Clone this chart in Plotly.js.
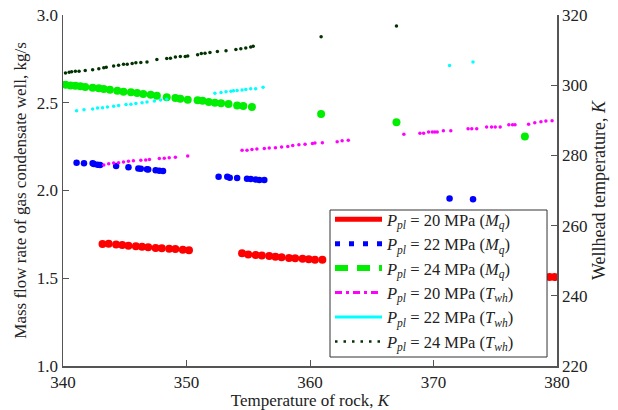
<!DOCTYPE html>
<html>
<head>
<meta charset="utf-8">
<script src="https://cdn.plot.ly/plotly-3.0.1.min.js"></script>
<style>html,body{margin:0;padding:0;background:#fff;}#chart{width:618px;height:410px;}</style>
</head>
<body>
<div id="chart"></div>
<script>
// Mass flow rate, Ppl = 20 MPa (Mq), left axis
const mq20X = [343.2,343.7,344.3,344.8,345.3,345.9,346.4,346.9,347.5,348.0,348.6,349.1,349.7,350.2,
               354.5,355.0,355.6,356.1,356.7,357.2,357.7,358.3,358.8,359.4,359.9,360.4,361.0,379.4,379.8];
const mq20Y = [1.695,1.697,1.693,1.689,1.685,1.682,1.680,1.676,1.672,1.671,1.668,1.667,1.663,1.659,
               1.642,1.636,1.632,1.629,1.627,1.623,1.619,1.615,1.614,1.611,1.608,1.606,1.606,1.507,1.507];
// Mass flow rate, Ppl = 22 MPa (Mq)
const mq22X = [341.1,341.7,342.4,342.5,342.8,343.0,344.3,345.3,346.1,346.3,346.8,346.9,347.5,347.8,348.1,
               352.6,353.3,353.5,354.1,354.9,355.2,355.6,355.9,356.3,371.3,373.2];
const mq22Y = [2.158,2.155,2.155,2.151,2.147,2.145,2.140,2.132,2.126,2.124,2.121,2.119,2.115,2.113,2.111,
               2.079,2.079,2.073,2.071,2.067,2.066,2.062,2.060,2.060,1.955,1.950];
// Mass flow rate, Ppl = 24 MPa (Mq)
const mq24X = [340.2,340.6,341.0,341.4,341.8,342.4,342.9,343.3,343.8,344.4,344.9,345.5,346.0,346.5,347.1,347.6,348.4,
               349.1,349.5,350.1,350.9,351.3,351.8,352.3,352.8,353.4,354.1,354.6,355.3,360.9,367.0,377.4];
const mq24Y = [2.603,2.599,2.597,2.594,2.590,2.586,2.582,2.578,2.574,2.569,2.563,2.560,2.556,2.550,2.546,2.540,2.531,
               2.527,2.523,2.517,2.514,2.512,2.504,2.500,2.497,2.493,2.485,2.481,2.476,2.436,2.389,2.307];
// Wellhead temperature, Ppl = 20 MPa (Twh), right axis
const tw20X = [343.3,343.7,344.1,344.5,344.9,345.3,345.7,346.3,346.7,347.0,347.8,348.2,348.6,349.1,350.1,
               354.5,354.9,355.3,355.7,356.3,356.7,357.2,357.7,358.2,358.6,359.1,359.6,360.2,360.4,361.0,362.2,362.6,363.1,
               367.6,368.9,369.2,369.6,369.9,370.1,370.3,370.8,371.4,372.8,373.1,373.5,374.3,374.7,375.0,375.4,376.1,376.4,376.6,
               377.7,378.2,378.7,379.1,379.6];
const tw20Y = [277.3,277.6,277.8,277.9,278.1,278.3,278.5,278.6,278.7,278.8,279.1,279.2,279.3,279.5,279.8,
               281.5,281.5,281.7,281.8,282.0,282.1,282.2,282.4,282.5,282.8,283.0,283.2,283.4,283.5,283.6,283.9,284.2,284.3,
               286.0,286.3,286.3,286.7,286.7,286.7,286.7,287.0,287.0,287.6,287.6,287.6,288.1,288.1,288.1,288.1,288.7,288.7,288.7,
               288.9,289.3,289.6,289.8,289.9];
// Wellhead temperature, Ppl = 22 MPa (Twh)
const tw22X = [341.1,341.7,342.4,342.8,343.2,343.6,344.1,344.5,345.1,345.5,345.9,346.4,346.8,347.4,347.9,348.4,
               352.3,352.8,353.2,353.6,353.8,354.1,354.5,354.8,355.2,355.6,356.2,371.3,373.2];
const tw22Y = [292.7,293.0,293.2,293.5,293.6,293.8,294.0,294.2,294.5,294.6,294.8,295.0,295.2,295.5,295.8,296.0,
               297.7,297.9,298.1,298.3,298.4,298.5,298.6,298.8,299.0,299.0,299.4,305.6,306.6];
// Wellhead temperature, Ppl = 24 MPa (Twh)
const tw24X = [340.2,340.5,340.7,341.0,341.3,341.8,342.4,342.9,343.3,343.5,344.1,344.5,344.9,345.2,345.6,345.9,346.3,346.8,347.6,348.4,
               348.7,349.1,349.5,349.9,350.1,350.9,351.2,351.5,351.9,352.5,353.2,354.0,354.4,354.8,355.2,355.4,360.9,367.0];
const tw24Y = [303.5,303.7,303.8,304.0,304.0,304.2,304.4,304.7,305.0,305.1,305.5,305.7,306.0,306.0,306.2,306.4,306.5,306.6,307.3,307.6,
               307.7,308.0,308.2,308.2,308.3,308.7,309.0,309.1,309.3,309.6,309.8,310.2,310.4,310.6,310.9,311.1,313.8,316.9];

const legendNames = [
  '<i>P</i><sub><i>pl</i></sub> = 20 MPa (<i>M</i><sub><i>q</i></sub>)',
  '<i>P</i><sub><i>pl</i></sub> = 22 MPa (<i>M</i><sub><i>q</i></sub>)',
  '<i>P</i><sub><i>pl</i></sub> = 24 MPa (<i>M</i><sub><i>q</i></sub>)',
  '<i>P</i><sub><i>pl</i></sub> = 20 MPa (<i>T</i><sub><i>wh</i></sub>)',
  '<i>P</i><sub><i>pl</i></sub> = 22 MPa (<i>T</i><sub><i>wh</i></sub>)',
  '<i>P</i><sub><i>pl</i></sub> = 24 MPa (<i>T</i><sub><i>wh</i></sub>)'
];
const colors = ['#ff0000','#0000ff','#00ee00','#ff00ff','#00ffff','#003300'];
const markerSizes = [8,6.5,8,3.5,3.5,3.5];
const legendLines = [
  {width:5, dash:'solid'},
  {width:5, dash:'5px,9px'},
  {width:6, dash:'13px,9px'},
  {width:3, dash:'7px,4px,3px,4px'},
  {width:3, dash:'solid'},
  {width:2.5, dash:'2.5px,6px'}
];
const seriesX = [mq20X,mq22X,mq24X,tw20X,tw22X,tw24X];
const seriesY = [mq20Y,mq22Y,mq24Y,tw20Y,tw22Y,tw24Y];
const seriesAxis = ['y','y','y','y2','y2','y2'];

const traces = [];
for (let i = 0; i < 6; i++) {
  traces.push({
    x: seriesX[i], y: seriesY[i], yaxis: seriesAxis[i], type: 'scatter', mode: 'markers',
    marker: {color: colors[i], size: markerSizes[i], line: {width: 0}},
    showlegend: false, hoverinfo: 'skip'
  });
}
for (let i = 0; i < 6; i++) {
  traces.push({
    x: [null], y: [null], yaxis: seriesAxis[i], type: 'scatter', mode: 'lines',
    name: legendNames[i], legendgroup: 'g' + i,
    line: {color: colors[i], width: legendLines[i].width, dash: legendLines[i].dash},
    showlegend: true
  });
}

const fontFam = 'Times New Roman, Liberation Serif, DejaVu Serif, serif';
const axisCol = '#555';
const txtCol = '#222';
const layout = {
  width: 618, height: 410,
  margin: {l: 63, r: 61, t: 15, b: 44},
  paper_bgcolor: '#fff', plot_bgcolor: '#fff',
  font: {family: fontFam, size: 16, color: txtCol},
  showlegend: true,
  legend: {
    x: 0.5405, y: 0.02, xanchor: 'left', yanchor: 'bottom',
    bgcolor: 'rgba(0,0,0,0)', borderwidth: 0,
    font: {family: fontFam, size: 16.5, color: txtCol},
    traceorder: 'grouped', tracegroupgap: 0, itemwidth: 47
  },
  shapes: [{
    type: 'rect', xref: 'paper', yref: 'paper', x0: 0.5405, x1: 0.9798, y0: 0.0256, y1: 0.4444,
    fillcolor: '#fff', line: {color: '#333', width: 1}, layer: 'above'
  }],
  xaxis: {
    range: [340, 380], dtick: 10, tick0: 340, ticks: 'inside', ticklen: 6, tickcolor: axisCol,
    showline: true, linecolor: axisCol, linewidth: 1.5, showgrid: false, zeroline: false,
    tickfont: {family: fontFam, size: 17, color: txtCol},
    title: {text: 'Temperature of rock, <i>K</i>', font: {family: fontFam, size: 17, color: txtCol}, standoff: 0}
  },
  xaxis2: {
    range: [340, 380], dtick: 10, tick0: 340, ticks: 'inside', ticklen: 6, tickcolor: axisCol,
    overlaying: 'x', side: 'top', showline: false, showgrid: false, zeroline: false, showticklabels: false
  },
  yaxis: {
    range: [1, 3], dtick: 0.5, tick0: 1, tickformat: '.1f', ticks: 'inside', ticklen: 6, tickcolor: axisCol,
    showline: true, linecolor: axisCol, linewidth: 1.5, showgrid: false, zeroline: false,
    tickfont: {family: fontFam, size: 17, color: txtCol},
    title: {text: 'Mass flow rate of gas condensate well, kg/s', font: {family: fontFam, size: 17, color: txtCol}, standoff: 6}
  },
  yaxis2: {
    range: [220, 320], dtick: 20, tick0: 220, overlaying: 'y', side: 'right', ticks: 'inside', ticklen: 6, tickcolor: axisCol,
    showline: true, linecolor: axisCol, linewidth: 1.5, showgrid: false, zeroline: false,
    tickfont: {family: fontFam, size: 17, color: txtCol},
    title: {text: 'Wellhead temperature, <i>K</i>', font: {family: fontFam, size: 18, color: txtCol}, standoff: 6}
  }
};

Plotly.newPlot('chart', traces, layout, {displayModeBar: false, staticPlot: true});
</script>
</body>
</html>
